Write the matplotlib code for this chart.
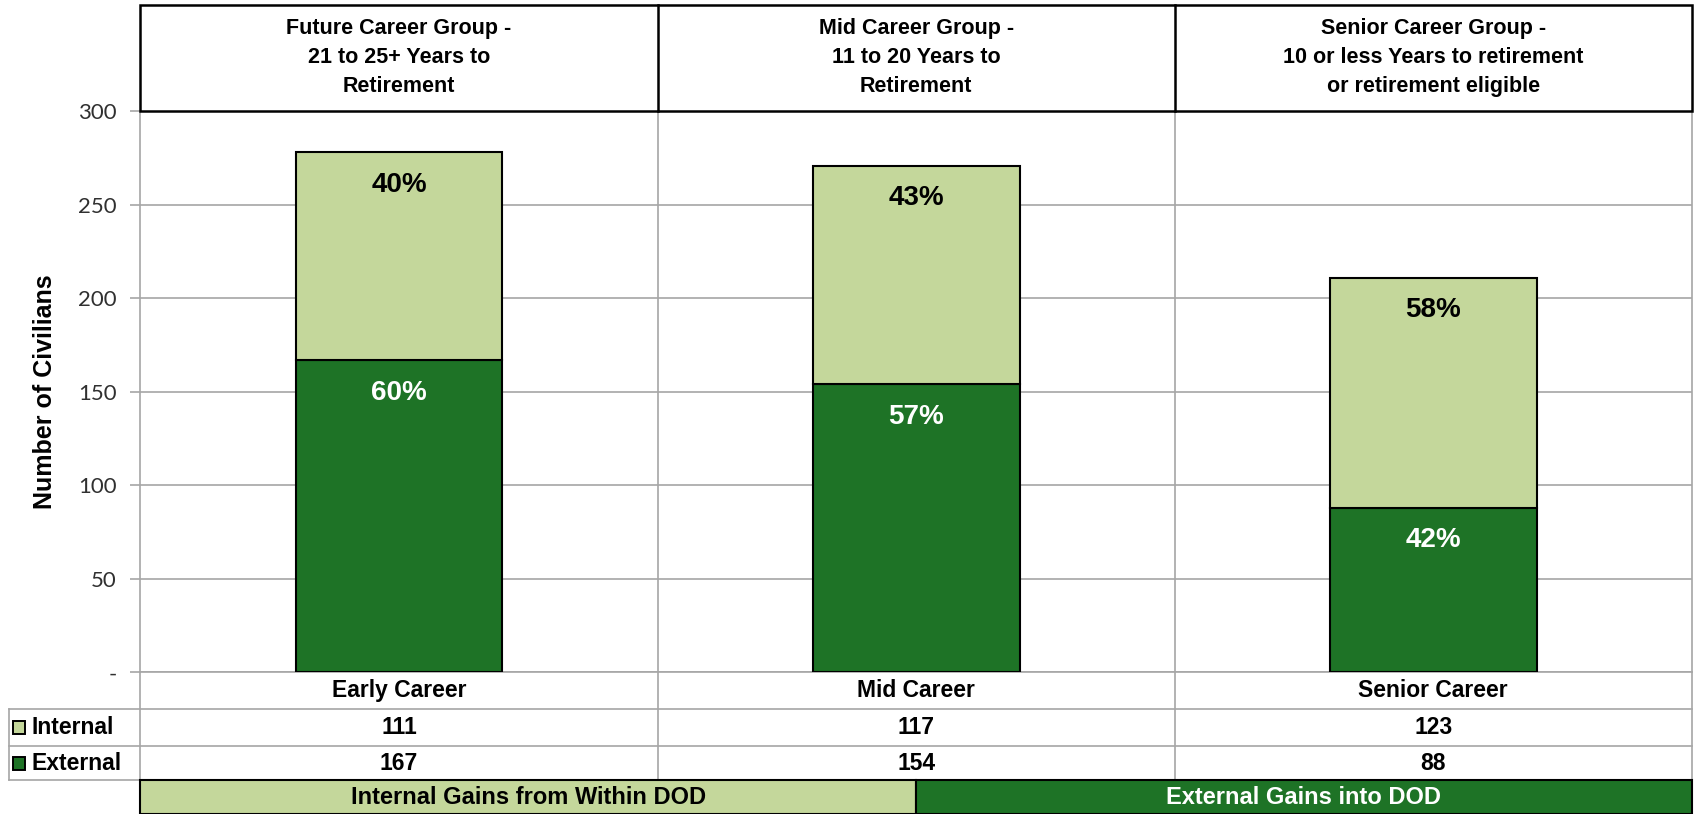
import matplotlib.pyplot as plt
from matplotlib.patches import Rectangle

# data
categories = ['Early Career', 'Mid Career', 'Senior Career']
internal = [111, 117, 123]
external = [167, 154, 88]
group_titles = ['Future Career Group -\n21 to 25+ Years to\nRetirement',
                'Mid Career Group -\n11 to 20 Years to\nRetirement',
                'Senior Career Group -\n10 or less Years to retirement\nor retirement eligible']
series_names = ['Internal', 'External']
banner_labels = ['Internal Gains from Within DOD', 'External Gains into DOD']
yticks = [0, 50, 100, 150, 200, 250, 300]
ytick_labels = ['-', '50', '100', '150', '200', '250', '300']

light = '#C4D79B'
dark = '#1E7326'
grid = '#A6A6A6'

plt.rcParams['font.family'] = ['Liberation Sans', 'DejaVu Sans']

# layout measured on the reference (as seen at 1568 x 753)
W, H = 1568, 753
left, right, top, bottom = 130, 1566, 103, 622


def fx(px):
    return px / W


def fy(py):
    return 1 - py / H


def ay(py):
    # pixel row -> axes fraction
    return (bottom - py) / (bottom - top)


fig = plt.figure(figsize=(16.94, 8.14), dpi=100)
ax = fig.add_axes([fx(left), fy(bottom), fx(right) - fx(left), fy(top) - fy(bottom)])

x = list(range(len(categories)))
totals = [i + e for i, e in zip(internal, external)]
ax.bar(x, external, width=0.4, color=dark, edgecolor='black', linewidth=1.5, zorder=3)
ax.bar(x, internal, width=0.4, bottom=external, color=light, edgecolor='black', linewidth=1.5, zorder=3)

for xi, i, e, t in zip(x, internal, external, totals):
    ax.annotate(f'{round(100 * i / t)}%', (xi, t), xytext=(0, -14), textcoords='offset points',
                ha='center', va='top', fontsize=20, fontweight='bold', color='black', zorder=4)
    ax.annotate(f'{round(100 * e / t)}%', (xi, e), xytext=(0, -14), textcoords='offset points',
                ha='center', va='top', fontsize=20, fontweight='bold', color='white', zorder=4)

ax.set_xlim(-0.5, 2.5)
ax.set_ylim(0, 300)
ax.set_yticks(yticks)
ax.set_yticklabels(ytick_labels, family='Lato', fontsize=16, color='#303030')
ax.set_xticks([])
ax.tick_params(axis='y', length=7, color=grid, width=1.2, pad=10)
ax.yaxis.grid(True, color=grid, linewidth=1.2, zorder=0)
for s in ['left', 'right', 'bottom']:
    ax.spines[s].set_color(grid)
    ax.spines[s].set_linewidth(1.2)
ax.spines['top'].set_visible(False)

fig.text(fx(42), (fy(top) + fy(bottom)) / 2, 'Number of Civilians', rotation=90,
         ha='center', va='center', fontsize=18, fontweight='bold')

tr = ax.get_xaxis_transform()
leg_x = -0.5 - (left - 8) / (right - left) * 3

# header boxes
ax.add_patch(Rectangle((-0.5, 1), 3, ay(5) - 1, transform=tr, fill=False,
                       edgecolor='black', linewidth=1.8, clip_on=False, zorder=5))
for b in [0.5, 1.5]:
    ax.plot([b, b], [1, ay(5)], transform=tr, color='black', lw=1.8, clip_on=False, zorder=5)
for xi, t in zip(x, group_titles):
    ax.text(xi, (1 + ay(5)) / 2 + 0.002, t, transform=tr, ha='center', va='center',
            fontsize=15.5, fontweight='bold', linespacing=1.5)

# vertical dividers through plot and table
for b in [0.5, 1.5]:
    ax.plot([b, b], [1, ay(722)], transform=tr, color=grid, lw=1.2, clip_on=False, zorder=1)
ax.plot([2.5, 2.5], [0, ay(722)], transform=tr, color=grid, lw=1.2, clip_on=False, zorder=1)
ax.plot([-0.5, -0.5], [0, ay(722)], transform=tr, color=grid, lw=1.2, clip_on=False, zorder=1)

# table rows
for py in [656, 690, 722]:
    ax.plot([leg_x, 2.5], [ay(py)] * 2, transform=tr, color=grid, lw=1.2, clip_on=False)
ax.plot([leg_x, leg_x], [ay(656), ay(722)], transform=tr, color=grid, lw=1.2, clip_on=False)

for xi, c in zip(x, categories):
    ax.text(xi, (ay(622) + ay(656)) / 2, c, transform=tr, ha='center', va='center',
            fontsize=16.5, fontweight='bold')
rows = [(internal, light, (ay(656) + ay(690)) / 2), (external, dark, (ay(690) + ay(722)) / 2)]
for name, (vals, col, yc) in zip(series_names, rows):
    for xi, v in zip(x, vals):
        ax.text(xi, yc, str(v), transform=tr, ha='center', va='center', fontsize=16.5, fontweight='bold')
    yf = fy(bottom) + yc * (fy(top) - fy(bottom))
    fig.patches.append(Rectangle((fx(12), yf - 0.008), fx(11), 0.016, transform=fig.transFigure,
                                 facecolor=col, edgecolor='black', linewidth=1.4))
    fig.text(fx(29), yf, name, ha='left', va='center', fontsize=16.5, fontweight='bold')

# bottom banner
split = 1.0
ax.add_patch(Rectangle((-0.5, ay(753)), split + 0.5, ay(722) - ay(753), transform=tr,
                       facecolor=light, edgecolor='black', linewidth=1.5, clip_on=False, zorder=5))
ax.add_patch(Rectangle((split, ay(753)), 2.5 - split, ay(722) - ay(753), transform=tr,
                       facecolor=dark, edgecolor='black', linewidth=1.5, clip_on=False, zorder=5))
by = (ay(722) + ay(753)) / 2
ax.text((-0.5 + split) / 2, by, banner_labels[0], transform=tr, ha='center', va='center',
        fontsize=17, fontweight='bold', color='black', zorder=6)
ax.text((split + 2.5) / 2, by, banner_labels[1], transform=tr, ha='center', va='center',
        fontsize=17, fontweight='bold', color='white', zorder=6)

fig.savefig('out.png', dpi=100)
